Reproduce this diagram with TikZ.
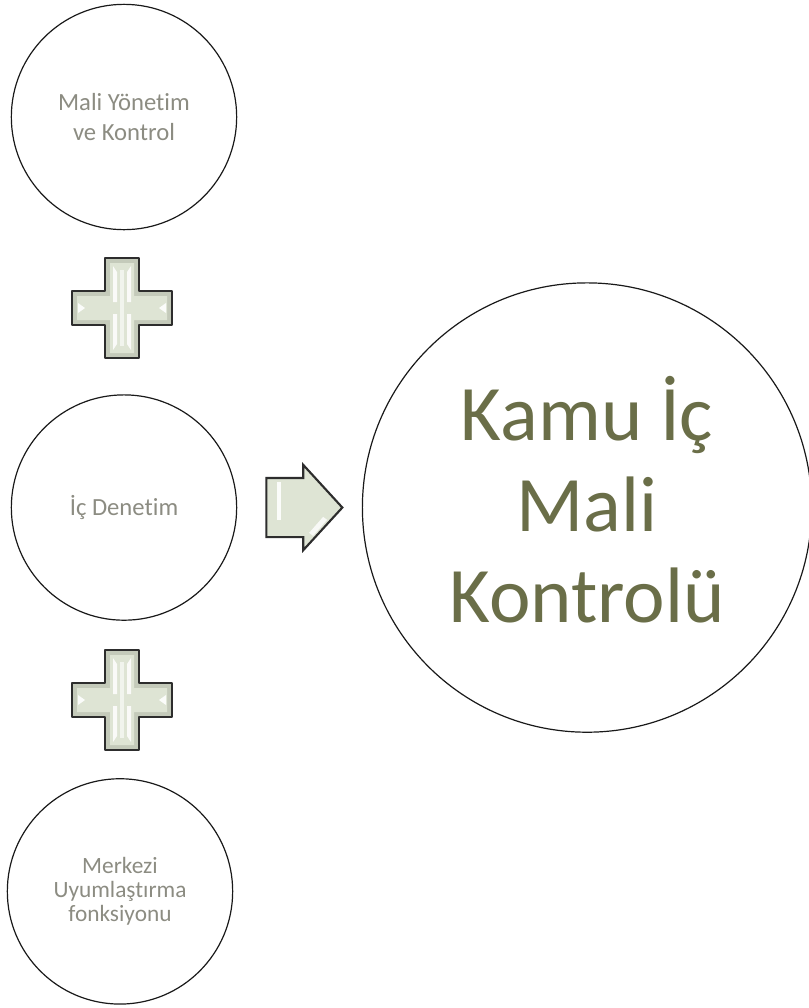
\documentclass[tikz,border=0pt]{standalone}
\usepackage{fontspec}
\setmainfont{Carlito}[Ligatures=CommonOff]
\usetikzlibrary{positioning,shapes.arrows}

\definecolor{ringline}{RGB}{25,25,25}
\definecolor{smalltext}{RGB}{140,140,130}
\definecolor{bigtext}{RGB}{106,110,72}
\definecolor{plusfill}{RGB}{196,202,186}
\definecolor{pluslight}{RGB}{222,228,212}
\definecolor{plusedge}{RGB}{45,45,45}

% plus sign drawn round a named coordinate (px units)
\newcommand{\plussign}[1]{%
  \draw[plusbox] (#1) ++(-17,-50) -- ++(34,0) -- ++(0,33) -- ++(33,0) -- ++(0,34)
    -- ++(-33,0) -- ++(0,33) -- ++(-34,0) -- ++(0,-33) -- ++(-33,0) -- ++(0,-34)
    -- ++(33,0) -- cycle;
  \fill[pluslight] (#1) ++(-12,-45) -- ++(24,0) -- ++(0,33) -- ++(33,0) -- ++(0,24)
    -- ++(-33,0) -- ++(0,33) -- ++(-24,0) -- ++(0,-33) -- ++(-33,0) -- ++(0,-24)
    -- ++(33,0) -- cycle;
  % bevel shine
  \fill[white, opacity=0.85] (#1) ++(-9,-42) -- ++(4,6) -- ++(0,30) -- ++(-4,0) -- cycle;
  \fill[white, opacity=0.85] (#1) ++(9,-42) -- ++(-4,6) -- ++(0,30) -- ++(4,0) -- cycle;
  \fill[white, opacity=0.85] (#1) ++(-9,42) -- ++(4,-6) -- ++(0,-30) -- ++(-4,0) -- cycle;
  \fill[white, opacity=0.85] (#1) ++(9,42) -- ++(-4,-6) -- ++(0,-30) -- ++(4,0) -- cycle;
  \fill[white, opacity=0.6] (#1) ++(-2,-38) rectangle ++(4,76);
  \fill[white, opacity=0.9] (#1) ++(-44,-5) -- ++(7,5) -- ++(-7,5) -- cycle;
  \fill[white, opacity=0.9] (#1) ++(44,-5) -- ++(-7,5) -- ++(7,5) -- cycle;
}

\begin{document}
\begin{tikzpicture}[x=0.75pt, y=-0.75pt,
        ring/.style={draw=ringline, line width=0.9pt, circle, minimum size=169pt, inner sep=0pt,
            align=center, text=smalltext, font=\fontsize{18.5}{22.5}\selectfont},
        bigring/.style={ring, minimum size=337pt},
        plusbox/.style={draw=plusedge, fill=plusfill, line width=2pt, line join=round},
        arrowbox/.style={single arrow, draw=plusedge, fill=pluslight, line width=1.6pt,
            inner xsep=0pt, inner ysep=21.4pt, minimum height=57pt,
            single arrow head extend=9.75pt, single arrow tip angle=95}
    ]
        \useasboundingbox (0,0) rectangle (809,1008);

        \node [ring] (mali) at (124,117) {Mali Yönetim\\ve Kontrol};
        \node [ring, below=123pt of mali] (denetim) {İç Denetim};
        \node [ring, below=118pt of denetim, xshift=-3pt,
            font=\fontsize{17.5}{18}\selectfont] (merkezi) {Merkezi\\Uyumlaştırma\\fonksiyonu};
        \node [arrowbox, right=21pt of denetim] (ok) {};
        \node [bigring, right=13.5pt of ok] (kamu) {};
        \node [text=bigtext, font=\fontsize{59}{68}\selectfont, align=center]
            (kamuyazi) at ([yshift=6pt]kamu.center) {Kamu İç\\Mali\\Kontrolü};

        \coordinate (artiA) at (122,308);
        \coordinate (artiB) at (122,700);
        \plussign{artiA}
        \plussign{artiB}

        % shine on the arrow
        \fill [white, opacity=0.9] ([xshift=9pt,yshift=-9pt]ok.west) rectangle ++(4,-38);
        \fill [white, opacity=0.8] ([xshift=-26pt,yshift=-19pt]ok.east) -- ++(14,-16) -- ++(4,3) -- ++(-14,16) -- cycle;
\end{tikzpicture}
\end{document}
